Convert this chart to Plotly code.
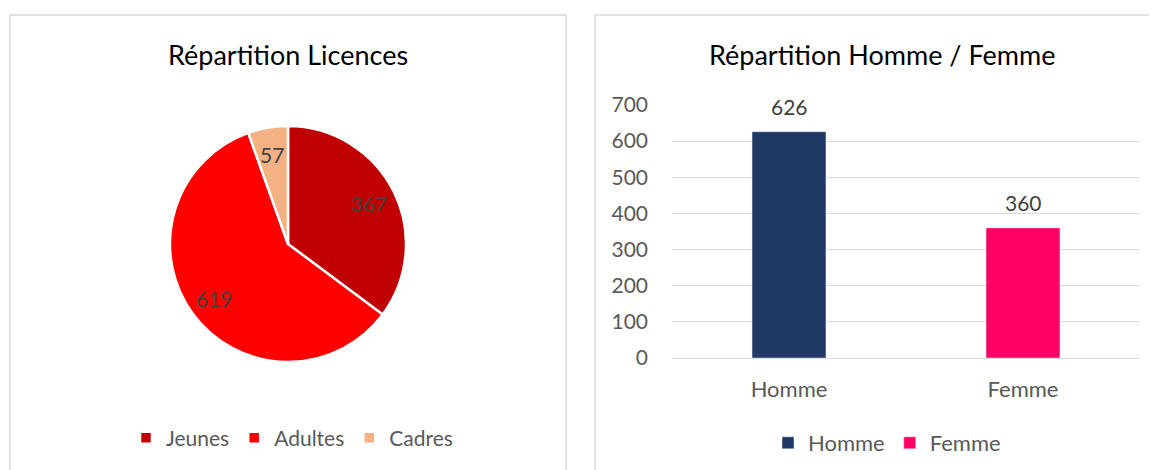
import math
import plotly.graph_objects as go

W, H = 1157, 470
OFF = 8  # page body margin compensation

# ---- data ----
pie_labels = ["Jeunes", "Adultes", "Cadres"]
pie_values = [367, 619, 57]
pie_colors = ["#C00000", "#FF0000", "#F4B183"]

bar_cats = ["Homme", "Femme"]
bar_values = [626, 360]
bar_colors = ["#203864", "#FF0066"]

y_ticks = [0, 100, 200, 300, 400, 500, 600, 700]

FONT = "Lato"
GRAY = "#595959"
LABEL = "#404040"

def px(x):
    return (x - OFF) / W

def py(y):
    return 1 - (y - OFF) / H

fig = go.Figure()

# pie
cx, cy, r = 288, 244, 118
fig.add_trace(go.Pie(
    labels=pie_labels, values=pie_values,
    marker=dict(colors=pie_colors, line=dict(color="white", width=2.5)),
    sort=False, direction="clockwise", rotation=0,
    textinfo="none",
    domain=dict(x=[px(cx - r), px(cx + r)], y=[py(cy + r), py(cy - r)]),
    legend="legend", showlegend=True, hoverinfo="skip",
))

annotations = []
# pie value labels placed along each slice's mid-angle (derived from the data)
total = sum(pie_values)
cum = 0
for v in pie_values:
    mid = (cum + v / 2) / total * 2 * math.pi
    cum += v
    lx = cx + 0.77 * r * math.sin(mid)
    ly = cy - 0.77 * r * math.cos(mid)
    annotations.append(dict(text=str(v), x=px(lx), y=py(ly), xref="paper", yref="paper",
                            showarrow=False, xanchor="center", yanchor="middle",
                            font=dict(family=FONT, size=21, color=LABEL)))

# bars
for cat, val, col in zip(bar_cats, bar_values, bar_colors):
    fig.add_trace(go.Bar(
        x=[cat], y=[val], name=cat, marker_color=col, width=0.316,
        legend="legend2", hoverinfo="skip",
    ))
    annotations.append(dict(text=str(val), x=cat, y=val, xref="x", yref="y",
                            showarrow=False, xanchor="center", yanchor="middle", yshift=25,
                            font=dict(family=FONT, size=21, color=LABEL)))

annotations += [
    dict(text="Répartition Licences", x=px(288), y=py(55), xref="paper", yref="paper",
         showarrow=False, font=dict(family=FONT, size=27, color="black"),
         xanchor="center", yanchor="middle"),
    dict(text="Répartition Homme / Femme", x=px(882), y=py(55), xref="paper", yref="paper",
         showarrow=False, font=dict(family=FONT, size=27, color="black"),
         xanchor="center", yanchor="middle"),
]

fig.update_layout(
    width=W, height=H,
    margin=dict(l=0, r=0, t=0, b=0, pad=0, autoexpand=False),
    paper_bgcolor="white", plot_bgcolor="white",
    barmode="overlay",
    font=dict(family=FONT, color=GRAY),
    xaxis=dict(domain=[px(672), px(1140)], categoryorder="array", categoryarray=bar_cats,
               showgrid=False, showline=False, zeroline=False, ticks="", automargin=False,
               tickfont=dict(family=FONT, size=22, color=GRAY), ticklabelstandoff=16),
    yaxis=dict(domain=[py(358), py(105)], range=[0, 700], tickvals=y_ticks,
               showgrid=True, gridcolor="#D9D9D9", gridwidth=1.3,
               zeroline=True, zerolinecolor="#D9D9D9", zerolinewidth=1.3,
               showline=False, ticks="", automargin=False,
               tickfont=dict(family=FONT, size=21, color=GRAY), ticklabelstandoff=23),
    legend=dict(orientation="h", x=px(292), y=py(438), xanchor="center", yanchor="middle",
                font=dict(family=FONT, size=21, color=GRAY), itemwidth=30,
                bgcolor="rgba(0,0,0,0)"),
    legend2=dict(orientation="h", x=px(887), y=py(443), xanchor="center", yanchor="middle",
                 font=dict(family=FONT, size=22, color=GRAY), itemwidth=30,
                 bgcolor="rgba(0,0,0,0)"),
    annotations=annotations,
    shapes=[
        dict(type="rect", xref="paper", yref="paper", x0=px(10), x1=px(566), y0=-0.1, y1=py(15),
             line=dict(color="#D9D9D9", width=1.5), fillcolor="rgba(0,0,0,0)", layer="below"),
        dict(type="rect", xref="paper", yref="paper", x0=px(595), x1=1.1, y0=-0.1, y1=py(15),
             line=dict(color="#D9D9D9", width=1.5), fillcolor="rgba(0,0,0,0)", layer="below"),
    ],
)

fig.write_html("out.html")
